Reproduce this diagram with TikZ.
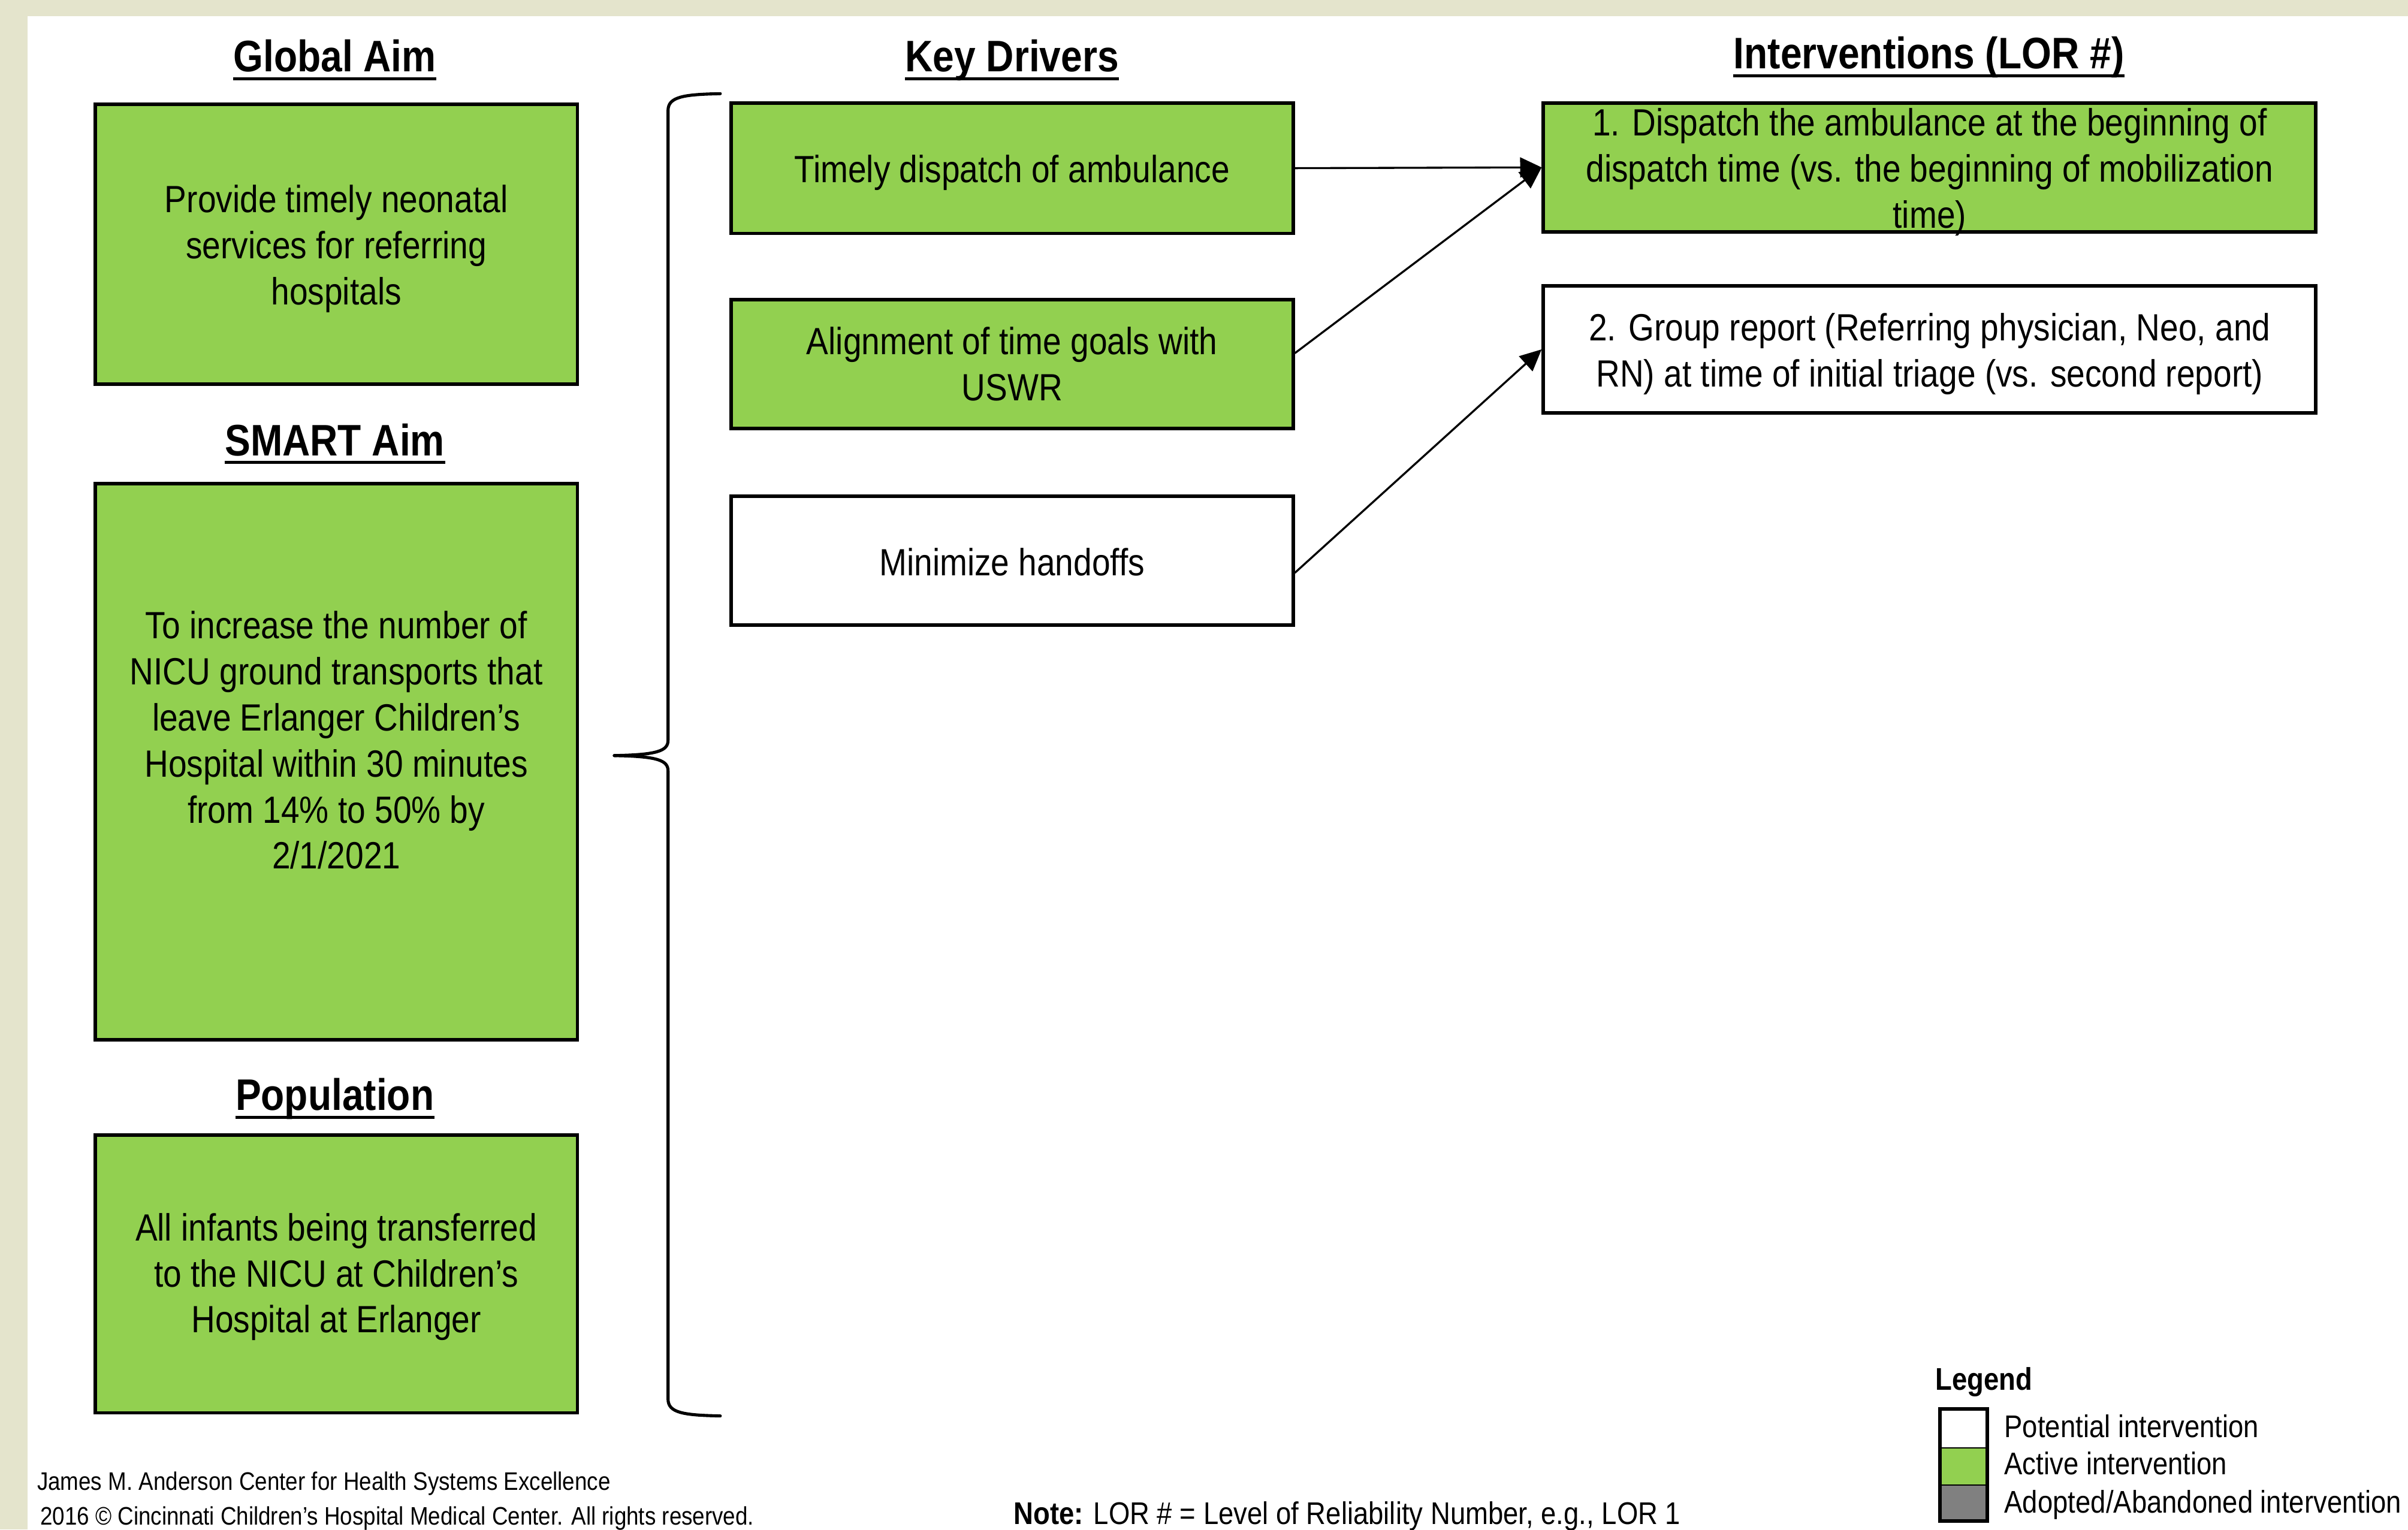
\documentclass[tikz,border=0pt]{standalone}
\usepackage{fontspec}
\setmainfont{Liberation Sans}[FakeStretch=0.87]
\usetikzlibrary{arrows.meta}
\definecolor{actgreen}{HTML}{92D050}
\definecolor{beige}{HTML}{E4E4CC}
\definecolor{adoptgray}{HTML}{808080}
\begin{document}
\begin{tikzpicture}[x=1pt,y=-1pt,
  bodyfont/.style={font=\fontsize{24.7}{30}\selectfont},
  box/.style={draw=black, line width=2.3pt, inner sep=0pt},
  active/.style={box, fill=actgreen},
  potential/.style={box, fill=white},
  boxtext/.style={bodyfont, align=center, inner sep=0pt},
  heading/.style={font=\fontsize{28.75}{34}\selectfont\bfseries, inner sep=0pt, anchor=base},
  headline/.style={line width=2pt},
  link/.style={line width=1.3pt, -{Triangle[length=14pt,width=13pt]}},
  brace/.style={line width=2pt, line cap=round},
  smalltext/.style={font=\fontsize{16.5}{20}\selectfont, anchor=base west, inner sep=0pt},
  legendtext/.style={font=\fontsize{20.4}{25}\selectfont, anchor=base west, inner sep=0pt},
  legsq/.style={draw=black, line width=0.8pt, minimum width=30pt, inner sep=0pt}
]
\useasboundingbox (0,0) rectangle (1568,996);
\fill[beige] (0,0) rectangle (1568,996);
\fill[white] (18,10.4) rectangle (1568,996);

% headings
\node[heading] (hga) at (218,46.7) {Global Aim};
\node[heading] (hsmart) at (218,296.7) {SMART Aim};
\node[heading] (hpop) at (218,723) {Population};
\node[heading] (hkd) at (659,46.7) {Key Drivers};
\node[heading] (hint) at (1256,44.7) {Interventions (LOR \#)};
\foreach \h in {hga,hsmart,hpop,hkd,hint}
  \draw[headline] ([yshift=-4.5pt]\h.base west) -- ([yshift=-4.5pt]\h.base east);

% left column
\node[active, minimum width=314pt, minimum height=182pt] (ga) at (219,159) {};
\node[boxtext] (gatxt) at ([yshift=-3pt]ga.center)
  {Provide timely neonatal\\services for referring\\hospitals};
\node[active, minimum width=314pt, minimum height=362pt] (smart) at (219,496) {};
\node[boxtext] (smarttxt) at (219,482)
  {To increase the number of\\NICU ground transports that\\leave Erlanger Children’s\\Hospital within 30 minutes\\from 14\% to 50\% by\\2/1/2021};
\node[active, minimum width=314pt, minimum height=181pt] (pop) at (219,829.5) {};
\node[boxtext] (poptxt) at ([yshift=-2pt]pop.center)
  {All infants being transferred\\to the NICU at Children’s\\Hospital at Erlanger};

% brace
\draw[brace] (469,61) .. controls (445,61.5) and (435,63) .. (435,72)
  -- (435,482) .. controls (435,489) and (428,491.5) .. (400,492);
\draw[brace] (400,492) .. controls (428,492.5) and (435,495) .. (435,502)
  -- (435,911) .. controls (435,920) and (445,921.5) .. (469,922);

% key drivers
\node[active, minimum width=366pt, minimum height=85pt] (kd1) at (659,109.5) {};
\node[boxtext] (kd1txt) at ([yshift=-3pt]kd1.center) {Timely dispatch of ambulance};
\node[active, minimum width=366pt, minimum height=84pt] (kd2) at (659,237) {};
\node[boxtext] (kd2txt) at (kd2.center) {Alignment of time goals with\\USWR};
\node[potential, minimum width=366pt, minimum height=84pt] (kd3) at (659,365) {};
\node[boxtext] (kd3txt) at ([yshift=-1pt]kd3.center) {Minimize handoffs};

% interventions
\node[active, minimum width=503pt, minimum height=84pt] (i1) at (1256.5,109) {};
\node[boxtext] (i1txt) at ([yshift=-3pt]i1.center)
  {1. Dispatch the ambulance at the beginning of\\dispatch time (vs. the beginning of mobilization\\time)};
\node[potential, minimum width=503pt, minimum height=83pt] (i2) at (1256.5,227.5) {};
\node[boxtext] (i2txt) at ([yshift=-3pt]i2.center)
  {2. Group report (Referring physician, Neo, and\\RN) at time of initial triage (vs. second report)};

% connectors
\draw[link] (kd1.east) -- (i1.west);
\draw[link] ([yshift=7pt]kd2.east) -- (i1.west);
\draw[link] ([yshift=-8pt]kd3.east) -- (i2.west);

% legend
\node[font=\fontsize{20.4}{25}\selectfont\bfseries, anchor=base west, inner sep=0pt] (leg) at (1260,905) {Legend};
\node[legsq, fill=white, minimum height=25pt] (lw) at (1278.5,930.5) {};
\node[legsq, fill=actgreen, minimum height=24pt] (lg) at (1278.5,955) {};
\node[legsq, fill=adoptgray, minimum height=23pt] (la) at (1278.5,978.5) {};
\draw[line width=2.3pt] (lw.north west) rectangle (la.south east);
\node[legendtext] (lwt) at (1305,936) {Potential intervention};
\node[legendtext] (lgt) at (1305,960) {Active intervention};
\node[legendtext] (lat) at (1305,985) {Adopted/Abandoned intervention};

% footer
\node[smalltext] (f1) at (24,970.5) {James M. Anderson Center for Health Systems Excellence};
\node[smalltext] (f2) at (26,993) {2016 © Cincinnati Children’s Hospital Medical Center. All rights reserved.};
\node[legendtext] (note) at (660,992.5) {\textbf{Note:} LOR \# = Level of Reliability Number, e.g., LOR 1};
\end{tikzpicture}
\end{document}
